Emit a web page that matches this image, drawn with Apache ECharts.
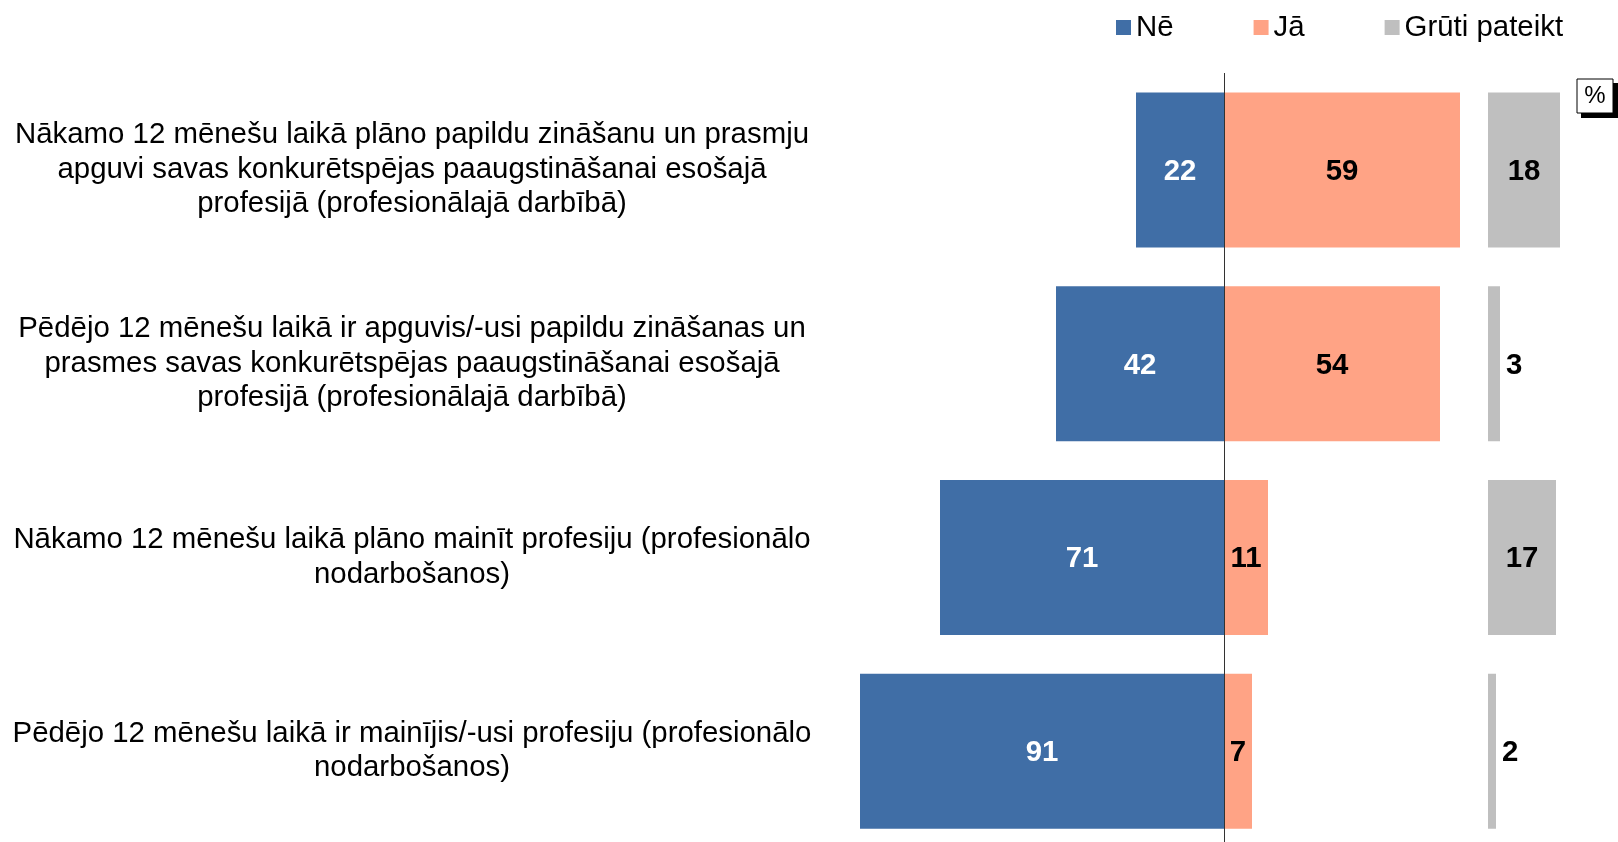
<!DOCTYPE html>
<html>
<head>
<meta charset="utf-8">
<script src="https://cdn.jsdelivr.net/npm/echarts@6/dist/echarts.min.js"></script>
<style>
  html, body { margin: 0; padding: 0; background: #fff; }
  #main { width: 1618px; height: 842px; }
</style>
</head>
<body>
<div id="main"></div>
<script>
const categories = [
  'Nākamo 12 mēnešu laikā plāno papildu zināšanu un prasmju\napguvi savas konkurētspējas paaugstināšanai esošajā\nprofesijā (profesionālajā darbībā)',
  'Pēdējo 12 mēnešu laikā ir apguvis/-usi papildu zināšanas un\nprasmes savas konkurētspējas paaugstināšanai esošajā\nprofesijā (profesionālajā darbībā)',
  'Nākamo 12 mēnešu laikā plāno mainīt profesiju (profesionālo\nnodarbošanos)',
  'Pēdējo 12 mēnešu laikā ir mainījis/-usi profesiju (profesionālo\nnodarbošanos)'
];
const neValues = [22, 42, 71, 91];
const jaValues = [59, 54, 11, 7];
const grutiValues = [18, 3, 17, 2];

const font = 'Liberation Sans, Arial, sans-serif';

const chart = echarts.init(document.getElementById('main'));

// small grey values get their label outside the bar
const grutiData = grutiValues.map(function (v) {
  return {
    value: v,
    label: v < 8 ? { position: 'right', distance: 6 } : { position: 'inside' }
  };
});

const option = {
  animation: false,
  textStyle: { fontFamily: font },
  legend: {
    data: ['Nē', 'Jā', 'Grūti pateikt'],
    left: 1111,
    top: 8,
    icon: 'rect',
    itemWidth: 15,
    itemHeight: 15,
    itemGap: 80,
    textStyle: { fontSize: 29.4, color: '#000', fontFamily: font }
  },
  // the last row runs past the bottom edge, as in the original
  grid: [
    { left: 824, width: 640, top: 73, height: 775, outerBoundsMode: 'none' },
    { left: 1488, width: 80, top: 73, height: 775, outerBoundsMode: 'none' }
  ],
  xAxis: [
    { gridIndex: 0, type: 'value', min: -100, max: 60, show: false },
    { gridIndex: 1, type: 'value', min: 0, max: 20, show: false }
  ],
  yAxis: [
    {
      gridIndex: 0,
      type: 'category',
      data: categories,
      inverse: true,
      axisLine: { show: false, onZero: false },
      axisTick: { show: false },
      axisLabel: {
        align: 'center',
        margin: 412,
        fontSize: 29.4,
        lineHeight: 34.5,
        padding: [4, 0, 0, 0],
        color: '#000',
        fontFamily: font
      }
    },
    {
      gridIndex: 1,
      type: 'category',
      data: categories,
      inverse: true,
      show: false
    }
  ],
  series: [
    {
      name: 'Nē',
      type: 'bar',
      stack: 'main',
      xAxisIndex: 0,
      yAxisIndex: 0,
      barWidth: 155,
      data: neValues.map(function (v) { return -v; }),
      itemStyle: { color: '#406EA6' },
      label: {
        show: true,
        position: 'inside',
        offset: [0, 2],
        color: '#fff',
        fontWeight: 'bold',
        fontSize: 29.4,
        fontFamily: font,
        formatter: function (p) { return Math.abs(p.value); }
      },
      markLine: {
        silent: true,
        symbol: 'none',
        z: 10,
        label: { show: false },
        lineStyle: { color: '#333', width: 1, type: 'solid' },
        data: [{ xAxis: 0 }]
      }
    },
    {
      name: 'Jā',
      type: 'bar',
      stack: 'main',
      xAxisIndex: 0,
      yAxisIndex: 0,
      barWidth: 155,
      data: jaValues,
      itemStyle: { color: '#FFA385' },
      label: {
        show: true,
        position: 'inside',
        offset: [0, 2],
        color: '#000',
        fontWeight: 'bold',
        fontSize: 29.4,
        fontFamily: font
      }
    },
    {
      name: 'Grūti pateikt',
      type: 'bar',
      xAxisIndex: 1,
      yAxisIndex: 1,
      barWidth: 155,
      data: grutiData,
      itemStyle: { color: '#BFBFBF' },
      label: {
        show: true,
        offset: [0, 2],
        color: '#000',
        fontWeight: 'bold',
        fontSize: 29.4,
        fontFamily: font
      }
    }
  ],
  graphic: [
    {
      type: 'rect',
      shape: { x: 1581, y: 83, width: 37, height: 35 },
      style: { fill: '#000' }
    },
    {
      type: 'rect',
      shape: { x: 1577, y: 79, width: 36, height: 34 },
      style: { fill: '#fff', stroke: '#000', lineWidth: 1 }
    },
    {
      type: 'text',
      x: 1595,
      y: 96,
      style: {
        text: '%',
        fontSize: 24,
        fontFamily: font,
        fill: '#000',
        align: 'center',
        verticalAlign: 'middle'
      }
    }
  ]
};

chart.setOption(option);
</script>
</body>
</html>
